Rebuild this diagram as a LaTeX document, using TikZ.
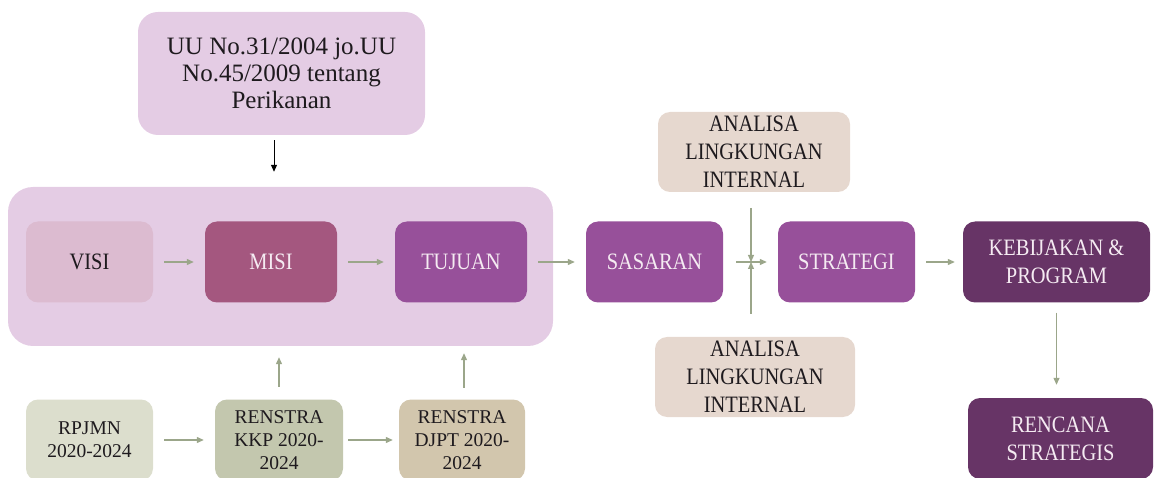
\documentclass[tikz,border=0pt]{standalone}
\usepackage{fontspec}
\setmainfont{Liberation Serif}
\newfontfamily\boxserif{Liberation Serif}[FakeStretch=0.87]
\usetikzlibrary{arrows.meta}
\definecolor{corebg}{HTML}{E4CCE4}
\definecolor{visifill}{HTML}{DCBBD0}
\definecolor{misifill}{HTML}{A4577F}
\definecolor{tujfill}{HTML}{97509A}
\definecolor{kebfill}{HTML}{673466}
\definecolor{anafill}{HTML}{E6D8CF}
\definecolor{rpjfill}{HTML}{DCDECD}
\definecolor{kkpfill}{HTML}{C3C7AE}
\definecolor{djptfill}{HTML}{D2C6AD}
\definecolor{flowc}{HTML}{9BA68A}
\definecolor{txtlite}{HTML}{F5EBF2}
\definecolor{txtdark}{HTML}{1E1A1E}
\begin{document}
\begin{tikzpicture}[x=1pt,y=-1pt,
  box/.style={rounded corners=12pt,minimum height=81pt,inner sep=0pt,align=center,font=\boxserif\fontsize{23.5}{28}\selectfont},
  lite/.style={box,text=txtdark},
  dark/.style={box,text=txtlite},
  plan/.style={lite,minimum width=127pt,font=\fontsize{19.5}{23}\selectfont},
  flow/.style={draw=flowc,line width=1.2pt,-{Triangle[length=7pt,width=6pt]},shorten <=11pt,shorten >=11pt}]
\useasboundingbox (0,0) rectangle (1157,478);
\node[box,fill=corebg,minimum width=287pt,minimum height=123pt,rounded corners=20pt,text=txtdark,font=\fontsize{25}{27}\selectfont] (uu) at (281.5,73.5) {UU No.31/2004 jo.UU\\No.45/2009 tentang\\Perikanan};
\node[fill=corebg,rounded corners=25pt,minimum width=545pt,minimum height=159pt] (core) at (280.5,266.5) {};
\node[lite,fill=visifill,minimum width=127pt] (visi) at (89.5,262) {VISI};
\node[dark,fill=misifill,minimum width=132pt] (misi) at (271,262) {MISI};
\node[dark,fill=tujfill,minimum width=132pt] (tujuan) at (461,262) {TUJUAN};
\node[dark,fill=tujfill,minimum width=137pt] (sasaran) at (654.5,262) {SASARAN};
\node[dark,fill=tujfill,minimum width=137pt] (strategi) at (846.5,262) {STRATEGI};
\node[dark,fill=kebfill,minimum width=187pt] (kebijakan) at (1056.5,262) {KEBIJAKAN \&\\PROGRAM};
\node[dark,fill=kebfill,minimum width=185pt] (rencana) at (1060.5,438.5) {RENCANA\\STRATEGIS};
\node[lite,fill=anafill,minimum width=192pt,minimum height=80pt] (linttop) at (754,152) {ANALISA\\LINGKUNGAN\\INTERNAL};
\node[lite,fill=anafill,minimum width=200pt,minimum height=80pt] (lintbot) at (755,377) {ANALISA\\LINGKUNGAN\\INTERNAL};
\node[plan,fill=rpjfill] (rpjmn) at (89.5,440) {RPJMN\\2020-2024};
\node[plan,fill=kkpfill,minimum width=128pt] (kkp) at (279,440) {RENSTRA\\KKP 2020-\\2024};
\node[plan,fill=djptfill,minimum width=126pt] (djpt) at (462,440) {RENSTRA\\DJPT 2020-\\2024};
\coordinate (jtop) at (751,208);
\coordinate (jmid) at (751,262);
\coordinate (jbot) at (751,314);
\draw[black,line width=1pt,-{Triangle[length=7pt,width=6pt]},shorten <=5pt,shorten >=15pt] ([xshift=-7.5pt]uu.south) -- ([xshift=-7.5pt]uu.south |- core.north);
\draw[flow] (visi) -- (misi);
\draw[flow] (misi) -- (tujuan);
\draw[flow] (tujuan) -- (sasaran);
\draw[flow,shorten <=13pt] (sasaran) -- (strategi);
\draw[flow,shorten <=0pt,shorten >=0pt] (jtop) -- (jmid);
\draw[flow,shorten <=0pt,shorten >=0pt] (jbot) -- (jmid);
\draw[flow,shorten >=8pt] (strategi) -- (kebijakan);
\draw[flow,shorten <=10pt,shorten >=13pt] (kebijakan) -- (kebijakan.south |- rencana.north);
\draw[flow] (rpjmn) -- (kkp);
\draw[flow,shorten <=5pt,shorten >=6pt] (kkp) -- (djpt);
\draw[flow,shorten <=12.5pt] (kkp) -- (kkp.north |- core.south);
\draw[flow,shorten <=11.5pt,shorten >=7pt] ([xshift=2pt]djpt.north) -- ([xshift=2pt]djpt.north |- core.south);
\end{tikzpicture}
\end{document}
